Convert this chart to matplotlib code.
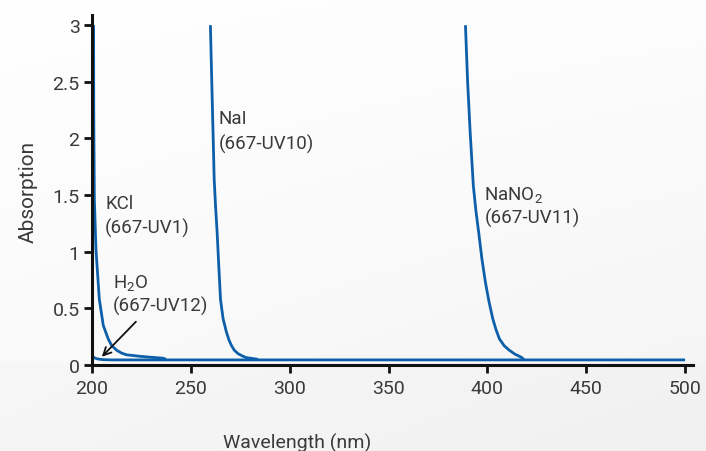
import numpy as np
import matplotlib.pyplot as plt

# absorption spectra of the UV reference solutions (wavelength in nm)
h2o_wl = [200, 201, 202.5, 204, 206, 210, 250, 300, 350, 400, 450, 500]
h2o_abs = [0.08, 0.065, 0.055, 0.05, 0.047, 0.045, 0.045, 0.045, 0.045, 0.045, 0.045, 0.045]

kcl_wl = [200.8, 200.9, 201.2, 202.0, 203.7, 205.7, 208.2, 210.0, 212.5, 215.0,
          217.5, 224.2, 230.0, 236.0, 237.5]
kcl_abs = [3.0, 2.2, 1.46, 1.02, 0.58, 0.35, 0.23, 0.17, 0.13, 0.105,
           0.09, 0.077, 0.068, 0.06, 0.05]

nai_wl = [259.9, 260.3, 260.8, 261.3, 261.8, 262.5, 263.3, 264.2, 265.0, 266.3,
          268.0, 269.3, 270.6, 272.0, 273.9, 276.0, 278.1, 284.0]
nai_abs = [3.0, 2.7, 2.35, 2.0, 1.64, 1.4, 1.17, 0.85, 0.58, 0.41,
           0.29, 0.22, 0.17, 0.13, 0.10, 0.08, 0.065, 0.05]

nano2_wl = [388.9, 390.0, 391.3, 392.9, 394.2, 395.6, 397.2, 399.0, 400.8, 402.7,
            404.4, 406.1, 408.5, 411.1, 414.0, 417.0, 418.5]
nano2_abs = [3.0, 2.5, 2.05, 1.58, 1.36, 1.17, 0.94, 0.73, 0.56, 0.41,
             0.31, 0.23, 0.17, 0.13, 0.095, 0.07, 0.05]

x_ticks = [200, 250, 300, 350, 400, 450, 500]
y_ticks = [0, 0.5, 1, 1.5, 2, 2.5, 3]
y_tick_labels = ["0", "0.5", "1", "1.5", "2", "2.5", "3"]

blue = "#0d5fa9"
txt = "#3a3a3a"

plt.rcParams["font.family"] = ["Roboto", "DejaVu Sans"]
plt.rcParams["mathtext.fontset"] = "custom"
plt.rcParams["mathtext.rm"] = "Roboto"
plt.rcParams["mathtext.it"] = "Roboto:italic"

fig = plt.figure(figsize=(7.06, 4.52), dpi=100)

# soft grey backdrop, a touch darker below the axis line
bg = fig.add_axes([0, 0, 1, 1], zorder=-10)
h, w = 452, 706
yy, xx = np.mgrid[0:h, 0:w]
shade = 1.0 - 0.025 * (yy / h) - 0.012 * (xx / w) * (yy / h) - 0.008 * (xx / w)
shade[yy >= 364] -= 0.012
bg.imshow(np.dstack([shade] * 3), aspect="auto", extent=[0, 1, 0, 1], vmin=0, vmax=1)
bg.axis("off")

ax = fig.add_axes([92 / 706, 86 / 452, 601 / 706, 350 / 452])
ax.set_facecolor("none")

lw = 2.0
ax.plot(h2o_wl, h2o_abs, color=blue, lw=lw, solid_capstyle="butt")
ax.plot(kcl_wl, kcl_abs, color=blue, lw=lw, solid_capstyle="butt")
ax.plot(nai_wl, nai_abs, color=blue, lw=lw, solid_capstyle="butt")
ax.plot(nano2_wl, nano2_abs, color=blue, lw=lw, solid_capstyle="butt")

ax.set_xlim(200, 504)
ax.set_ylim(0, 3.09)
ax.set_xticks(x_ticks)
ax.set_yticks(y_ticks)
ax.set_yticklabels(y_tick_labels)

for side in ["top", "right"]:
    ax.spines[side].set_visible(False)
for side in ["left", "bottom"]:
    ax.spines[side].set_linewidth(2.2)
    ax.spines[side].set_color("#111111")
ax.tick_params(axis="both", length=6, width=2, color="#111111",
               labelsize=14, labelcolor=txt)
ax.tick_params(axis="x", pad=4)
ax.tick_params(axis="y", pad=3)

# curve labels
fs = 13.5
ax.text(206.6, 1.39, "KCl", fontsize=fs, color=txt)
ax.text(206.6, 1.17, "(667-UV1)", fontsize=fs, color=txt)
ax.text(264.1, 2.14, "NaI", fontsize=fs, color=txt)
ax.text(264.1, 1.91, "(667-UV10)", fontsize=fs, color=txt)
ax.text(398.5, 1.465, r"$\mathregular{NaNO_2}$", fontsize=fs, color=txt)
ax.text(398.5, 1.253, "(667-UV11)", fontsize=fs, color=txt)
ax.text(210.6, 0.686, r"$\mathregular{H_2O}$", fontsize=fs, color=txt)
ax.text(210.6, 0.479, "(667-UV12)", fontsize=fs, color=txt)

ax.annotate("", xy=(204, 0.055), xytext=(223.2, 0.40),
            arrowprops=dict(arrowstyle="->", color="#111111", lw=1.3,
                            mutation_scale=14))

fig.text(28 / 706, 1 - 192 / 452, "Absorption", rotation=90, fontsize=15,
         color=txt, ha="center", va="center")
fig.text(297 / 706, 3 / 452, "Wavelength (nm)", fontsize=14, color=txt,
         ha="center", va="baseline")

fig.savefig("out.png", dpi=100)
